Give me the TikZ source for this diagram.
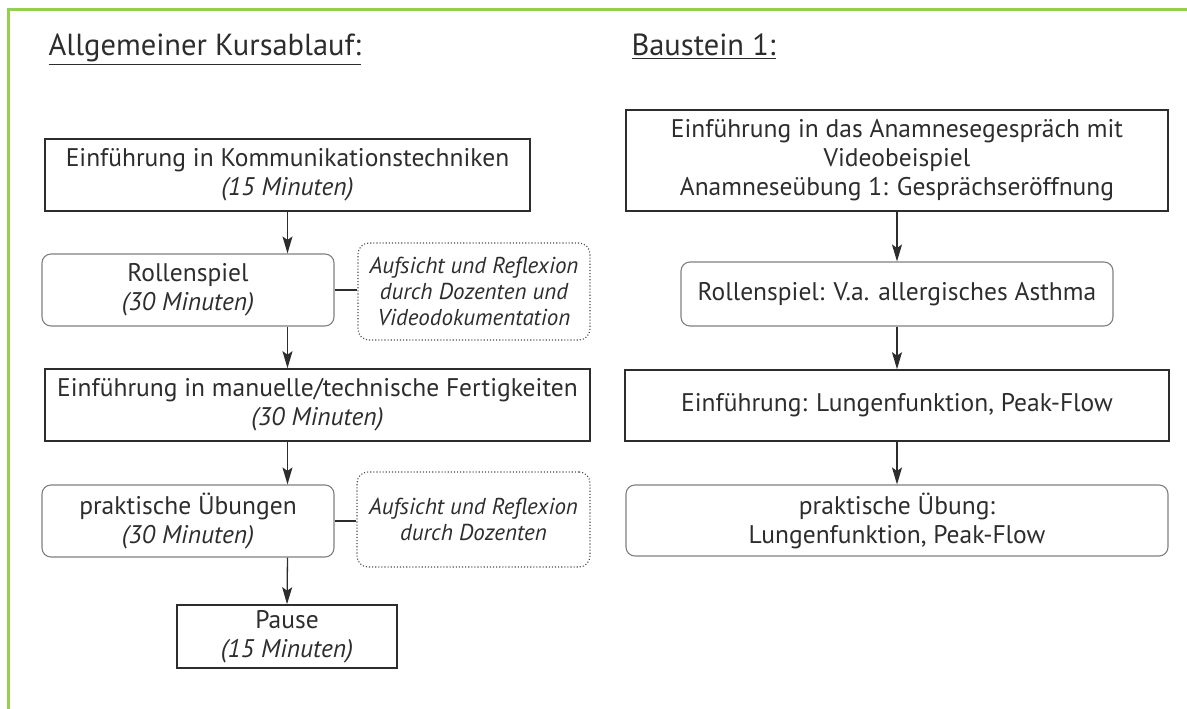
\documentclass[tikz,border=0pt]{standalone}
\usepackage{fontspec}
\setmainfont{PT Sans}
\usepackage{xcolor}
\usetikzlibrary{positioning, arrows.meta}
\definecolor{framegreen}{RGB}{146,208,80}
\definecolor{ink}{RGB}{45,45,45}

\begin{document}
\begin{tikzpicture}[x=1pt, y=1pt, on grid, text=ink,
  font=\fontsize{25.5}{29}\selectfont,
  title/.style={anchor=base west, font=\fontsize{30.5}{34}\selectfont},
  box/.style={draw=ink, line width=1.6pt, rectangle, align=center, inner sep=0pt, minimum height=72pt},
  roundbox/.style={draw=black!50, line width=1.1pt, rounded corners=9pt, align=center, inner sep=0pt, minimum height=72pt},
  notebox/.style={draw=black!70, line width=1.1pt, dotted, rounded corners=11pt, align=center, inner sep=0pt, font=\fontsize{23}{26}\selectfont\itshape},
  flow/.style={color=ink, line width=1.3pt, -{Stealth[length=17pt, width=10pt, inset=3.5pt]}},
  link/.style={color=ink, line width=1.2pt}]

  \useasboundingbox (0,0) rectangle (1187,-709);
  \draw[framegreen, line width=3pt] (8,-709) -- (8,-9.5) -- (1187,-9.5);

  \node[title] (TitleL) at (45,-56) {\underline{Allgemeiner Kursablauf:}};
  \node[title] (TitleR) at (628,-56) {\underline{Baustein 1:}};

  \node[box, minimum width=485pt] (Kommu) at (287.5,-175) {Einführung in Kommunikationstechniken\\\textit{(15 Minuten)}};
  \node[roundbox, minimum width=292pt] (Rollen) [below=115pt of Kommu, xshift=-99.5pt] {Rollenspiel\\\textit{(30 Minuten)}};
  \node[notebox, minimum width=232pt, minimum height=97pt] (Note1) [right=286pt of Rollen, yshift=-1.5pt] {Aufsicht und Reflexion\\durch Dozenten und\\Videodokumentation};
  \node[box, minimum width=545pt] (Manuell) [below=115pt of Rollen, xshift=129.5pt] {Einführung in manuelle/technische Fertigkeiten\\\textit{(30 Minuten)}};
  \node[roundbox, minimum width=292pt] (Prakt) [below=116pt of Manuell, xshift=-129.5pt] {praktische Übungen\\\textit{(30 Minuten)}};
  \node[notebox, minimum width=233pt, minimum height=95pt] (Note2) [right=285.5pt of Prakt, yshift=1.5pt] {Aufsicht und Reflexion\\durch Dozenten};
  \node[box, minimum width=220pt, minimum height=63pt] (Pause) [below=115.5pt of Prakt, xshift=99pt] {Pause\\\textit{(15 Minuten)}};

  \node[box, minimum width=542pt, minimum height=101pt] (Anam) at (897,-160.5) {Einführung in das Anamnesegespräch mit\\Videobeispiel\\Anamneseübung 1: Gesprächseröffnung};
  \node[roundbox, minimum width=432pt, minimum height=64pt] (Asthma) [below=133.5pt of Anam] {Rollenspiel: V.a. allergisches Asthma};
  \node[box, minimum width=544pt, minimum height=71pt] (Lunge) [below=111.5pt of Asthma] {Einführung: Lungenfunktion, Peak-Flow};
  \node[roundbox, minimum width=542pt, minimum height=71pt] (Uebung) [below=115pt of Lunge] {praktische Übung:\\Lungenfunktion, Peak-Flow};

  \path[flow]
    (Kommu.south) edge (Kommu.south |- Rollen.north)
    (Rollen.south -| Kommu) edge (Manuell.north -| Kommu)
    (Manuell.south -| Kommu) edge (Prakt.north -| Kommu)
    (Prakt.south -| Kommu) edge (Pause.north)
    (Anam) edge (Asthma)
    (Asthma) edge (Lunge)
    (Lunge) edge (Uebung);

  \path[link]
    (Rollen.east) edge (Rollen.east -| Note1.west)
    (Prakt.east) edge (Prakt.east -| Note2.west);

\end{tikzpicture}
\end{document}
